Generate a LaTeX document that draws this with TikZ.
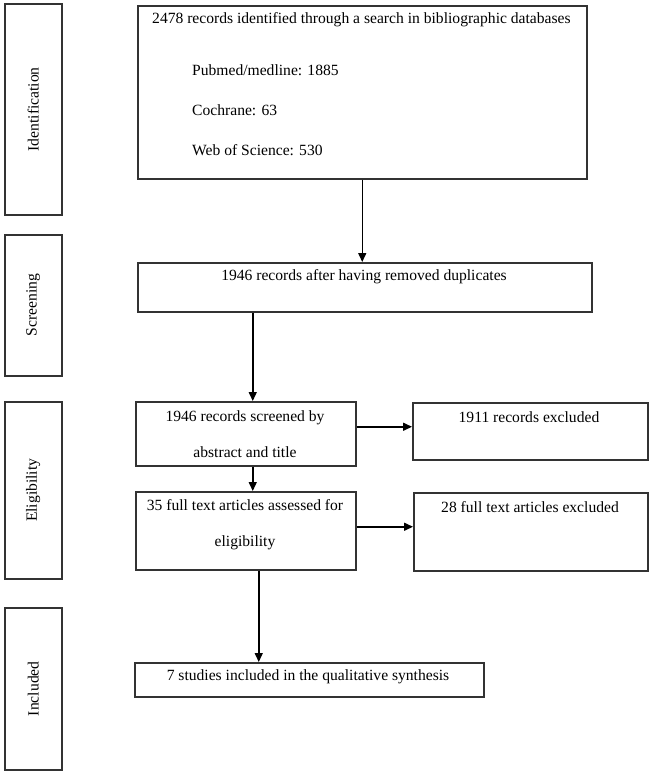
\documentclass[tikz,border=0pt]{standalone}
\usepackage{fontspec}
\setmainfont{Liberation Serif}
\usetikzlibrary{arrows.meta}

\tikzset{
	box/.style={draw, line width=1.5pt, draw=black!80, anchor=north west, inner sep=0pt},
	txt/.style={font=\fontsize{15.6}{36}\selectfont, inner sep=0pt, align=center},
	arr/.style={line width=1.5pt, -{Triangle[length=9pt,width=8pt]}},
}

\begin{document}
\begin{tikzpicture}[x=1pt, y=-1pt]
		\useasboundingbox (0,0) rectangle (649,772);

		% Draw stage boxes
		\node[box, minimum width=57pt, minimum height=211pt] (stident) at (4,3) {};
		\node[box, minimum width=57pt, minimum height=141pt] (stscreen) at (4,234) {};
		\node[box, minimum width=57pt, minimum height=177pt] (stelig) at (4,401) {};
		\node[box, minimum width=57pt, minimum height=162pt] (stincl) at (4,607) {};
		\node[txt, rotate=90] (lident) at (stident.center) {Identification};
		\node[txt, rotate=90] (lscreen) at (stscreen.center) {Screening};
		\node[txt, rotate=90] (lelig) at (stelig.center) {Eligibility};
		\node[txt, rotate=90] (lincl) at (stincl.center) {Included};

		% Draw flow boxes
		\node[box, minimum width=449pt, minimum height=173pt] (records) at (137,5) {};
		\node[box, minimum width=454pt, minimum height=49pt] (dedup) at (137,262) {};
		\node[box, minimum width=220pt, minimum height=64pt] (abstract) at (135,401) {};
		\node[box, minimum width=220pt, minimum height=78pt] (fulltext) at (135,491) {};
		\node[box, minimum width=235pt, minimum height=57pt] (exclA) at (412,402) {};
		\node[box, minimum width=234pt, minimum height=78pt] (exclB) at (413,492) {};
		\node[box, minimum width=349pt, minimum height=34pt] (studies) at (134,662) {};

		% Box texts
		\node[txt, anchor=west] (trecords) at (152,20) {2478 records identified through a search in bibliographic databases};
		\node[txt, anchor=west] (tpubmed) at (192,70) {Pubmed/medline: 1885};
		\node[txt, anchor=west] (tcochrane) at (192,110) {Cochrane: 63};
		\node[txt, anchor=west] (twos) at (192,150) {Web of Science: 530};
		\node[txt] (tdedup) at (364,277) {1946 records after having removed duplicates};
		\node[txt] (tabstract) at (245,434) {1946 records screened by\\abstract and title};
		\node[txt] (tfulltext) at (245,525) {35 full text articles assessed for\\eligibility};
		\node[txt] (texclA) at (529,417) {1911 records excluded};
		\node[txt] (texclB) at (530,507) {28 full text articles excluded};
		\node[txt] (tstudies) at (308,677) {7 studies included in the qualitative synthesis};

		% Draw arrows
		\draw[arr] (records.south) -- (records.south |- dedup.north);
		\draw[arr] ([xshift=7pt]abstract.north |- dedup.south) -- ([xshift=7pt]abstract.north);
		\draw[arr] ([xshift=7pt]abstract.south) -- ([xshift=7pt]fulltext.north);
		\draw[arr] ([yshift=7pt]abstract.east) -- ([yshift=7pt]abstract.east -| exclA.west);
		\draw[arr] ([yshift=4pt]fulltext.east) -- ([yshift=4pt]fulltext.east -| exclB.west);
		\draw[arr] ([xshift=13pt]fulltext.south) -- ([xshift=13pt]fulltext.south |- studies.north);
	\end{tikzpicture}
\end{document}
